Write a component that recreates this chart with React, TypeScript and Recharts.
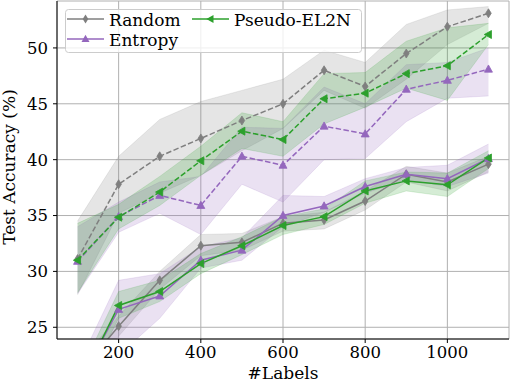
import React from "react";
import {
  ComposedChart,
  Area,
  Line,
  XAxis,
  YAxis,
  CartesianGrid,
  Legend,
} from "recharts";

const FONT = "DejaVu Serif, Liberation Serif, serif";

const labels = [100, 200, 300, 400, 500, 600, 700, 800, 900, 1000, 1100];
const xTicks = [200, 400, 600, 800, 1000];
const yTicks = [25, 30, 35, 40, 45, 50];

// dashed (upper) runs
const randomDash = [31.1, 37.8, 40.3, 41.9, 43.5, 45.0, 48.0, 46.55, 49.5, 51.9, 53.1];
const randomDashLo = [27.9, 35.2, 37.0, 38.6, 40.8, 42.8, 46.2, 44.6, 47.2, 50.3, 52.2];
const randomDashHi = [34.5, 40.3, 43.6, 45.2, 46.2, 47.2, 49.8, 48.7, 52.1, 53.4, 53.7];

const entropyDash = [30.9, 34.9, 36.8, 35.9, 40.3, 39.5, 43.0, 42.3, 46.3, 47.1, 48.1];
const entropyDashLo = [28.0, 33.5, 35.2, 33.3, 37.8, 36.2, 40.0, 40.1, 43.4, 45.5, 45.7];
const entropyDashHi = [34.0, 36.2, 38.0, 38.5, 42.9, 42.8, 46.5, 45.0, 48.5, 48.7, 50.0];

const pseudoDash = [31.0, 34.85, 37.1, 39.9, 42.55, 41.8, 45.45, 45.95, 47.7, 48.4, 51.2];
const pseudoDashLo = [28.1, 33.8, 35.9, 38.6, 41.0, 40.3, 43.2, 44.7, 46.4, 45.3, 50.3];
const pseudoDashHi = [34.3, 36.0, 38.5, 41.2, 44.2, 43.4, 47.7, 47.8, 50.6, 51.8, 52.2];

// solid (lower) runs
const randomSolid = [20.7, 25.1, 29.2, 32.3, 32.6, 34.3, 34.6, 36.3, 38.7, 38.0, 39.6];
const randomSolidLo = [19.7, 24.2, 28.4, 31.4, 31.9, 33.6, 33.8, 35.5, 38.0, 37.2, 38.9];
const randomSolidHi = [21.7, 26.0, 30.0, 33.3, 33.4, 34.9, 35.3, 37.2, 39.4, 38.8, 40.3];

const entropySolid = [19.8, 26.6, 27.8, 31.0, 31.9, 35.0, 35.85, 37.6, 38.7, 38.3, 40.1];
const entropySolidLo = [18.5, 22.5, 25.8, 30.3, 31.0, 34.0, 35.3, 37.0, 38.2, 37.6, 38.8];
const entropySolidHi = [21.5, 29.2, 29.8, 32.2, 33.0, 36.8, 36.7, 38.3, 39.3, 39.5, 41.4];

const pseudoSolid = [19.5, 26.95, 28.2, 30.7, 32.3, 34.1, 34.9, 37.2, 38.1, 37.75, 40.15];
const pseudoSolidLo = [18.5, 25.8, 27.3, 29.8, 31.5, 33.3, 34.2, 36.1, 37.2, 36.7, 39.2];
const pseudoSolidHi = [20.5, 28.2, 29.2, 31.6, 33.1, 34.9, 35.6, 38.1, 38.9, 38.8, 40.8];

const GRAY = "#7f7f7f";
const PURPLE = "#9467bd";
const GREEN = "#2ca02c";

const data = labels.map((n, i) => ({
  n,
  rD: randomDash[i],
  rDb: [randomDashLo[i], randomDashHi[i]],
  eD: entropyDash[i],
  eDb: [entropyDashLo[i], entropyDashHi[i]],
  pD: pseudoDash[i],
  pDb: [pseudoDashLo[i], pseudoDashHi[i]],
  rS: randomSolid[i],
  rSb: [randomSolidLo[i], randomSolidHi[i]],
  eS: entropySolid[i],
  eSb: [entropySolidLo[i], entropySolidHi[i]],
  pS: pseudoSolid[i],
  pSb: [pseudoSolidLo[i], pseudoSolidHi[i]],
}));

type Shape = "diamond" | "up" | "left";

const markerPoints = (shape: Shape, cx: number, cy: number) => {
  if (shape === "diamond")
    return `${cx},${cy - 4.5} ${cx + 2.8},${cy} ${cx},${cy + 4.5} ${cx - 2.8},${cy}`;
  if (shape === "up")
    return `${cx},${cy - 4.2} ${cx + 4},${cy + 3} ${cx - 4},${cy + 3}`;
  return `${cx - 4.2},${cy} ${cx + 3},${cy - 4} ${cx + 3},${cy + 4}`;
};

const dot = (shape: Shape, color: string, tag: string) => (p: any) => {
  if (p.cx == null || p.cy == null) return <g key={`${tag}-${p.index}`} />;
  return (
    <polygon
      key={`${tag}-${p.index}`}
      points={markerPoints(shape, p.cx, p.cy)}
      fill={color}
      stroke={color}
      strokeWidth={0.8}
    />
  );
};

const legendItems = [
  { name: "Random", color: GRAY, shape: "diamond" as Shape, x: 2, y: 10 },
  { name: "Entropy", color: PURPLE, shape: "up" as Shape, x: 2, y: 30 },
  { name: "Pseudo-EL2N", color: GREEN, shape: "left" as Shape, x: 127, y: 10 },
];

const LegendBox = () => (
  <svg width={297} height={44} style={{ display: "block" }}>
    <rect
      x={0.5}
      y={0.5}
      width={296}
      height={43}
      rx={3}
      fill="#ffffff"
      fillOpacity={0.8}
      stroke="#cccccc"
      strokeWidth={1}
    />
    {legendItems.map((it) => (
      <g key={it.name}>
        <line x1={it.x} x2={it.x + 37} y1={it.y} y2={it.y} stroke={it.color} strokeWidth={1.6} />
        <polygon points={markerPoints(it.shape, it.x + 18.5, it.y)} fill={it.color} />
        <text
          x={it.x + 42}
          y={it.y + 6.5}
          style={{ fontFamily: FONT, fontSize: 17 }}
          fill="#000"
        >
          {it.name}
        </text>
      </g>
    ))}
  </svg>
);

const tickStyle = { fill: "#000", fontSize: 16.5, fontFamily: FONT };

const yLabel = (props: any) => {
  const vb = props.viewBox || { x: 0, y: 1, height: 339 };
  const cy = vb.y + vb.height / 2 - 3;
  return (
    <text
      x={14.5}
      y={cy}
      transform={`rotate(-90, 14.5, ${cy})`}
      textAnchor="middle"
      style={{ fontFamily: FONT, fontSize: 17 }}
      fill="#000"
    >
      Test Accuracy (%)
    </text>
  );
};

const xLabel = (props: any) => {
  const vb = props.viewBox || { x: 57, width: 452 };
  return (
    <text
      x={vb.x + vb.width / 2}
      y={379}
      textAnchor="middle"
      style={{ fontFamily: FONT, fontSize: 17 }}
      fill="#000"
    >
      #Labels
    </text>
  );
};

const DASH = "5.5 2.4";

export default function App() {
  return (
    <div style={{ position: "absolute", left: 0, top: 0, width: 512, height: 382, background: "#fff", fontFamily: FONT }}>
      <ComposedChart
        width={512}
        height={382}
        data={data}
        margin={{ top: 1, right: 3, bottom: 1, left: 0 }}
      >
        <XAxis
          dataKey="n"
          type="number"
          domain={[50, 1150]}
          allowDataOverflow
          ticks={xTicks}
          tick={tickStyle}
          tickSize={4}
          tickMargin={3}
          height={42}
          axisLine={{ stroke: "#000", strokeWidth: 1 }}
          tickLine={{ stroke: "#000" }}
          label={xLabel}
        />
        <XAxis
          xAxisId="top"
          orientation="top"
          type="number"
          domain={[50, 1150]}
          allowDataOverflow
          height={0}
          tick={false}
          tickLine={false}
          axisLine={{ stroke: "#000", strokeWidth: 1 }}
        />
        <YAxis
          type="number"
          domain={[23.95, 54.2]}
          allowDataOverflow
          ticks={yTicks}
          tick={tickStyle}
          tickSize={4}
          tickMargin={5}
          width={57}
          axisLine={{ stroke: "#000", strokeWidth: 1 }}
          tickLine={{ stroke: "#000" }}
          label={yLabel}
        />
        <YAxis
          yAxisId="right"
          orientation="right"
          type="number"
          domain={[23.95, 54.2]}
          allowDataOverflow
          width={0}
          tick={false}
          tickLine={false}
          axisLine={{ stroke: "#000", strokeWidth: 1 }}
        />

        <Area dataKey="rSb" type="linear" fill={GRAY} fillOpacity={0.2} stroke={GRAY} strokeOpacity={0.15} isAnimationActive={false} />
        <Area dataKey="rDb" type="linear" fill={GRAY} fillOpacity={0.2} stroke={GRAY} strokeOpacity={0.15} isAnimationActive={false} />
        <Area dataKey="eSb" type="linear" fill={PURPLE} fillOpacity={0.2} stroke={PURPLE} strokeOpacity={0.15} isAnimationActive={false} />
        <Area dataKey="eDb" type="linear" fill={PURPLE} fillOpacity={0.2} stroke={PURPLE} strokeOpacity={0.15} isAnimationActive={false} />
        <Area dataKey="pSb" type="linear" fill={GREEN} fillOpacity={0.2} stroke={GREEN} strokeOpacity={0.15} isAnimationActive={false} />
        <Area dataKey="pDb" type="linear" fill={GREEN} fillOpacity={0.2} stroke={GREEN} strokeOpacity={0.15} isAnimationActive={false} />

        <CartesianGrid stroke="#b0b0b0" strokeWidth={1} />

        <Line dataKey="rS" type="linear" stroke={GRAY} strokeWidth={1.5} dot={dot("diamond", GRAY, "rS")} activeDot={false} isAnimationActive={false} />
        <Line dataKey="rD" type="linear" stroke={GRAY} strokeWidth={1.5} strokeDasharray={DASH} dot={dot("diamond", GRAY, "rD")} activeDot={false} isAnimationActive={false} />
        <Line dataKey="eS" type="linear" stroke={PURPLE} strokeWidth={1.5} dot={dot("up", PURPLE, "eS")} activeDot={false} isAnimationActive={false} />
        <Line dataKey="eD" type="linear" stroke={PURPLE} strokeWidth={1.5} strokeDasharray={DASH} dot={dot("up", PURPLE, "eD")} activeDot={false} isAnimationActive={false} />
        <Line dataKey="pS" type="linear" stroke={GREEN} strokeWidth={1.5} dot={dot("left", GREEN, "pS")} activeDot={false} isAnimationActive={false} />
        <Line dataKey="pD" type="linear" stroke={GREEN} strokeWidth={1.5} strokeDasharray={DASH} dot={dot("left", GREEN, "pD")} activeDot={false} isAnimationActive={false} />

        <Legend
          layout="vertical"
          align="center"
          verticalAlign="middle"
          content={<LegendBox />}
          wrapperStyle={{ left: 65, top: 9, width: 297, height: 44, right: "auto", bottom: "auto" }}
        />
      </ComposedChart>
    </div>
  );
}
